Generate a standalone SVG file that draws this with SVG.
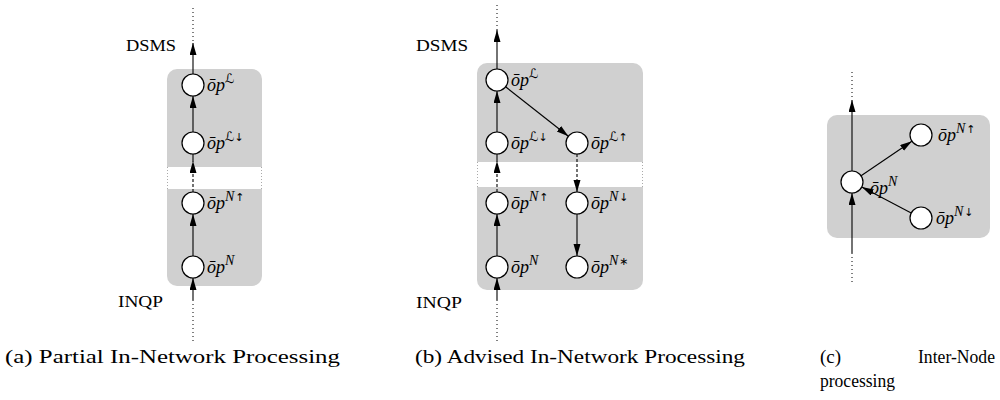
<svg xmlns="http://www.w3.org/2000/svg" width="1000" height="400" viewBox="0 0 1000 400">
<style>
.box{fill:#d0d0d0;}
.strip{fill:#ffffff;}
.edge{stroke:#aaaaaa;stroke-width:1;stroke-dasharray:1 2;}
.node{fill:#ffffff;stroke:#000000;stroke-width:1.2;}
.ln{stroke:#000000;stroke-width:1.1;fill:none;}
.arr{stroke:#000000;stroke-width:1.1;fill:none;marker-end:url(#ah);}
.dash{stroke-dasharray:3 2;}
.dot{stroke:#000000;stroke-width:1;stroke-dasharray:1 3;fill:none;}
.lbl{font-family:"Liberation Serif","DejaVu Serif",serif;font-style:italic;font-size:18px;fill:#000;}
.sL{font-family:"DejaVu Serif","DejaVu Sans",serif;font-size:13px;font-style:normal;}
.sN{font-family:"Liberation Serif",serif;font-size:14px;font-style:italic;}
.sa{font-family:"DejaVu Sans",sans-serif;font-size:11px;font-style:normal;}
.txt{font-family:"Liberation Serif",serif;font-size:16px;fill:#000;}
.cap{font-family:"Liberation Serif",serif;font-size:19px;fill:#000;}
</style>
<defs>
<marker id="ah" markerUnits="userSpaceOnUse" markerWidth="12" markerHeight="8" refX="12" refY="3.5" orient="auto">
<path d="M0,0 L12,3.5 L0,7 z" fill="#000"/>
</marker>
</defs>

<g id="panel-a-box">
<rect class="box" x="167" y="69" width="95" height="217" rx="10"/>
<rect class="strip" x="166" y="167" width="97" height="22"/>
<line class="edge" x1="167.5" y1="167" x2="167.5" y2="189"/>
<line class="edge" x1="261.5" y1="167" x2="261.5" y2="189"/>
</g>
<g id="panel-b-box">
<rect class="box" x="477" y="63" width="166" height="227" rx="10"/>
<rect class="strip" x="476" y="162" width="168" height="25"/>
<line class="edge" x1="477.5" y1="162" x2="477.5" y2="187"/>
<line class="edge" x1="642.5" y1="162" x2="642.5" y2="187"/>
</g>
<g id="panel-c-box">
<rect class="box" x="827" y="115" width="163" height="123" rx="10"/>
</g>

<g id="connectors">
<line class="dot" x1="193" y1="8" x2="193" y2="43"/>
<line class="arr" x1="193" y1="74" x2="193" y2="43"/>
<line class="arr" x1="193" y1="132" x2="193" y2="96"/>
<line class="arr dash" x1="193" y1="192" x2="193" y2="161"/>
<line class="ln" x1="193" y1="161" x2="193" y2="154"/>
<line class="arr" x1="193" y1="256" x2="193" y2="214"/>
<line class="arr" x1="193" y1="300" x2="193" y2="278"/>
<line class="dot" x1="193" y1="300" x2="193" y2="342"/>
<line class="dot" x1="497" y1="5" x2="497" y2="30"/>
<line class="arr" x1="497" y1="69" x2="497" y2="30"/>
<line class="arr" x1="497" y1="132" x2="497" y2="91"/>
<line class="arr" x1="505.6" y1="86.8" x2="568.4" y2="136.2"/>
<line class="arr dash" x1="497" y1="192" x2="497" y2="161"/>
<line class="ln" x1="497" y1="161" x2="497" y2="154"/>
<line class="arr dash" x1="577" y1="154" x2="577" y2="192"/>
<line class="arr" x1="497" y1="256" x2="497" y2="214"/>
<line class="arr" x1="577" y1="214" x2="577" y2="256"/>
<line class="arr" x1="497" y1="300" x2="497" y2="278"/>
<line class="dot" x1="497" y1="300" x2="497" y2="342"/>
<line class="dot" x1="852" y1="72" x2="852" y2="100"/>
<line class="arr" x1="852" y1="171" x2="852" y2="100"/>
<line class="arr" x1="861.1" y1="175.8" x2="911.9" y2="141.2"/>
<line class="arr" x1="911.2" y1="212.9" x2="861.8" y2="186.9"/>
<line class="arr" x1="852" y1="253" x2="852" y2="193"/>
<line class="dot" x1="852" y1="253" x2="852" y2="282"/>
</g>

<g id="a-opL">
<circle class="node" cx="193" cy="85" r="11"/>
<text class="lbl" x="207" y="91">ōp<tspan class="sL" dy="-8">ℒ</tspan></text>
</g>
<g id="a-opLdown">
<circle class="node" cx="193" cy="143" r="11"/>
<text class="lbl" x="207" y="149">ōp<tspan class="sL" dy="-8">ℒ</tspan><tspan class="sa">↓</tspan></text>
</g>
<g id="a-opNup">
<circle class="node" cx="193" cy="203" r="11"/>
<text class="lbl" x="207" y="209">ōp<tspan class="sN" dy="-8">N</tspan><tspan class="sa" dx="1">↑</tspan></text>
</g>
<g id="a-opN">
<circle class="node" cx="193" cy="267" r="11"/>
<text class="lbl" x="207" y="273">ōp<tspan class="sN" dy="-8">N</tspan></text>
</g>
<g id="a-labels">
<text class="txt" x="126" y="51" textLength="50" lengthAdjust="spacingAndGlyphs">DSMS</text>
<text class="txt" x="118" y="307" textLength="45" lengthAdjust="spacingAndGlyphs">INQP</text>
</g>

<g id="b-opL">
<circle class="node" cx="497" cy="80" r="11"/>
<text class="lbl" x="511" y="86">ōp<tspan class="sL" dy="-8">ℒ</tspan></text>
</g>
<g id="b-opLdown">
<circle class="node" cx="497" cy="143" r="11"/>
<text class="lbl" x="511" y="149">ōp<tspan class="sL" dy="-8">ℒ</tspan><tspan class="sa">↓</tspan></text>
</g>
<g id="b-opLup">
<circle class="node" cx="577" cy="143" r="11"/>
<text class="lbl" x="591" y="149">ōp<tspan class="sL" dy="-8">ℒ</tspan><tspan class="sa">↑</tspan></text>
</g>
<g id="b-opNup">
<circle class="node" cx="497" cy="203" r="11"/>
<text class="lbl" x="511" y="209">ōp<tspan class="sN" dy="-8">N</tspan><tspan class="sa" dx="1">↑</tspan></text>
</g>
<g id="b-opNdown">
<circle class="node" cx="577" cy="203" r="11"/>
<text class="lbl" x="591" y="209">ōp<tspan class="sN" dy="-8">N</tspan><tspan class="sa" dx="1">↓</tspan></text>
</g>
<g id="b-opN">
<circle class="node" cx="497" cy="267" r="11"/>
<text class="lbl" x="511" y="273">ōp<tspan class="sN" dy="-8">N</tspan></text>
</g>
<g id="b-opNstar">
<circle class="node" cx="577" cy="267" r="11"/>
<text class="lbl" x="591" y="273">ōp<tspan class="sN" dy="-8">N</tspan><tspan class="sa" dx="1">∗</tspan></text>
</g>
<g id="b-labels">
<text class="txt" x="416" y="51" textLength="52" lengthAdjust="spacingAndGlyphs">DSMS</text>
<text class="txt" x="416" y="308" textLength="46" lengthAdjust="spacingAndGlyphs">INQP</text>
</g>

<g id="c-opN">
<circle class="node" cx="852" cy="182" r="11"/>
<text class="lbl" x="870" y="194">ōp<tspan class="sN" dy="-8">N</tspan></text>
</g>
<g id="c-opNup">
<circle class="node" cx="921" cy="135" r="11"/>
<text class="lbl" x="938" y="141">ōp<tspan class="sN" dy="-8">N</tspan><tspan class="sa" dx="1">↑</tspan></text>
</g>
<g id="c-opNdown">
<circle class="node" cx="921" cy="218" r="11"/>
<text class="lbl" x="936" y="224">ōp<tspan class="sN" dy="-8">N</tspan><tspan class="sa" dx="1">↓</tspan></text>
</g>

<g id="captions">
<text class="cap" x="5" y="363" textLength="335" lengthAdjust="spacingAndGlyphs">(a) Partial In-Network Processing</text>
<text class="cap" x="415" y="363" textLength="330" lengthAdjust="spacingAndGlyphs">(b) Advised In-Network Processing</text>
<text class="cap" x="820" y="363">(c)</text>
<text class="cap" x="995" y="363" text-anchor="end" textLength="77" lengthAdjust="spacingAndGlyphs">Inter-Node</text>
<text class="cap" x="820" y="387" textLength="75" lengthAdjust="spacingAndGlyphs">processing</text>
</g>
</svg>
